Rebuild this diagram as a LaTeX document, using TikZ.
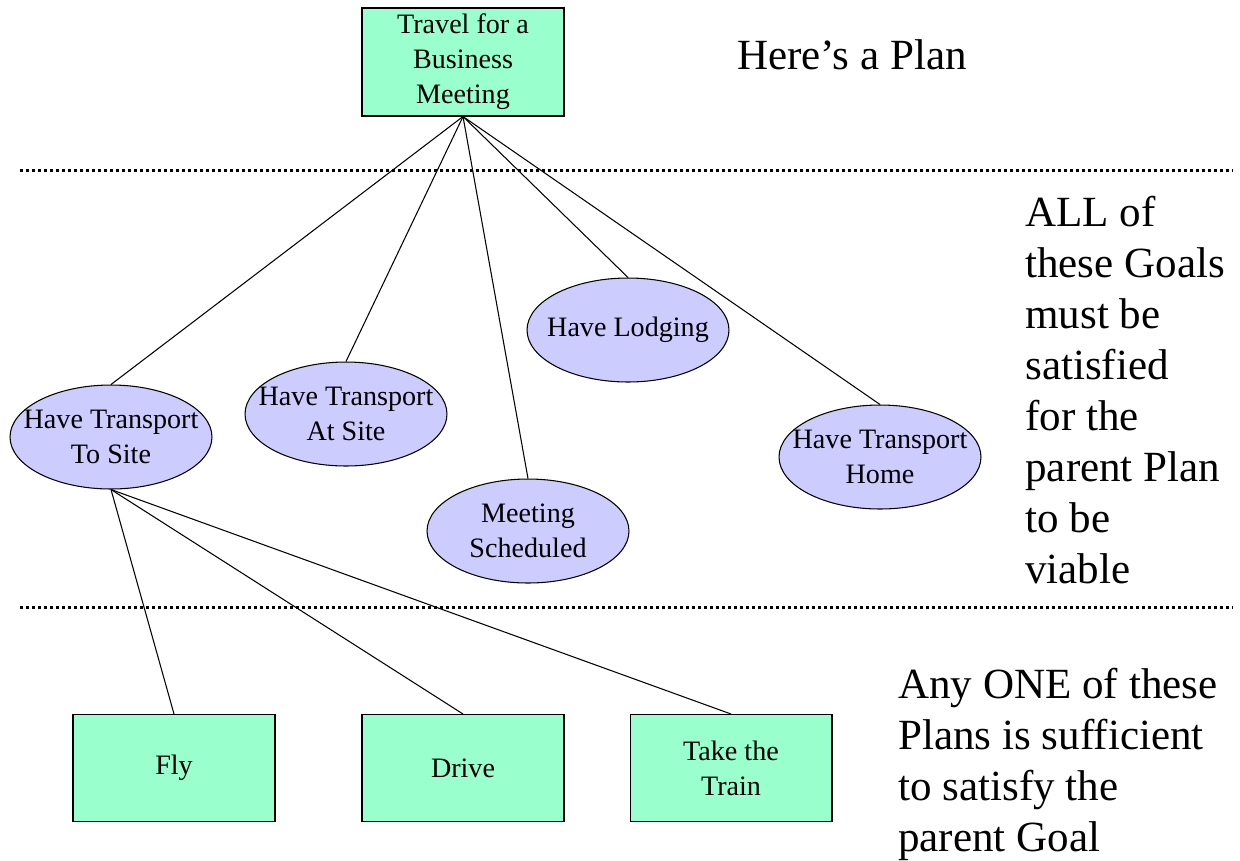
\documentclass[tikz,border=0pt]{standalone}
\usepackage{fontspec}
\setmainfont{Liberation Serif}
\usetikzlibrary{shapes.geometric}
\definecolor{plangreen}{HTML}{99FFCC}
\definecolor{goalblue}{HTML}{CCCCFF}
\begin{document}
\begin{tikzpicture}[x=0.02cm,y=-0.02cm,
  plannode/.style={draw, fill=plangreen, line width=0.6pt, minimum width=4.04cm, minimum height=2.14cm, inner sep=0pt, align=center, font=\fontsize{16}{19.9}\selectfont},
  goalnode/.style={draw, fill=goalblue, ellipse, line width=0.6pt, minimum width=4.04cm, minimum height=2.08cm, inner sep=-1cm, align=center, font=\fontsize{16}{19.9}\selectfont},
  link/.style={line width=0.6pt},
  sep/.style={line width=0.06cm, dash pattern=on 0.06cm off 0.06cm},
  note/.style={align=left, anchor=north west, inner sep=0pt, font=\fontsize{24.5}{29}\selectfont}]
\useasboundingbox (0,0) rectangle (1240,860);
% plan at top
\node[plannode, minimum height=2.16cm] (travel) at (463,62) {Travel for a\\Business\\Meeting};
% goals
\node[goalnode] (tsite) at (111,437) {Have Transport\\To Site};
\node[goalnode] (tat) at (346,414) {Have Transport\\At Site};
\node[goalnode] (meet) at (528,531) {Meeting\\Scheduled};
\node[goalnode] (lodge) at (628,330) {Have Lodging};
\node[goalnode] (thome) at (880,457) {Have Transport\\Home};
% plans at bottom
\node[plannode] (fly) at (174,768) {Fly};
\node[plannode] (drive) at (463,768) {Drive};
\node[plannode] (train) at (731,768) {Take the\\Train};
% separators
\coordinate (s1a) at (20,170);
\coordinate (s1b) at (1232,170);
\coordinate (s2a) at (20,607);
\coordinate (s2b) at (1232,607);
\draw[sep] (s1a) -- (s1b);
\draw[sep] (s2a) -- (s2b);
% connectors
\foreach \g in {tsite,tat,meet,lodge,thome}
  \draw[link] (travel.south) -- (\g.north);
\foreach \p in {fly,drive,train}
  \draw[link] (tsite.south) -- (\p.north);
% notes
\node[note, anchor=west] (n1) at (737,55) {Here’s a Plan};
\node[note] (n2) at (1025,196) {ALL of\\these Goals\\must be\\satisfied\\for the\\parent Plan\\to be\\viable};
\node[note] (n3) at (898,668) {Any ONE of these\\Plans is sufficient\\to satisfy the\\parent Goal};
\end{tikzpicture}
\end{document}
